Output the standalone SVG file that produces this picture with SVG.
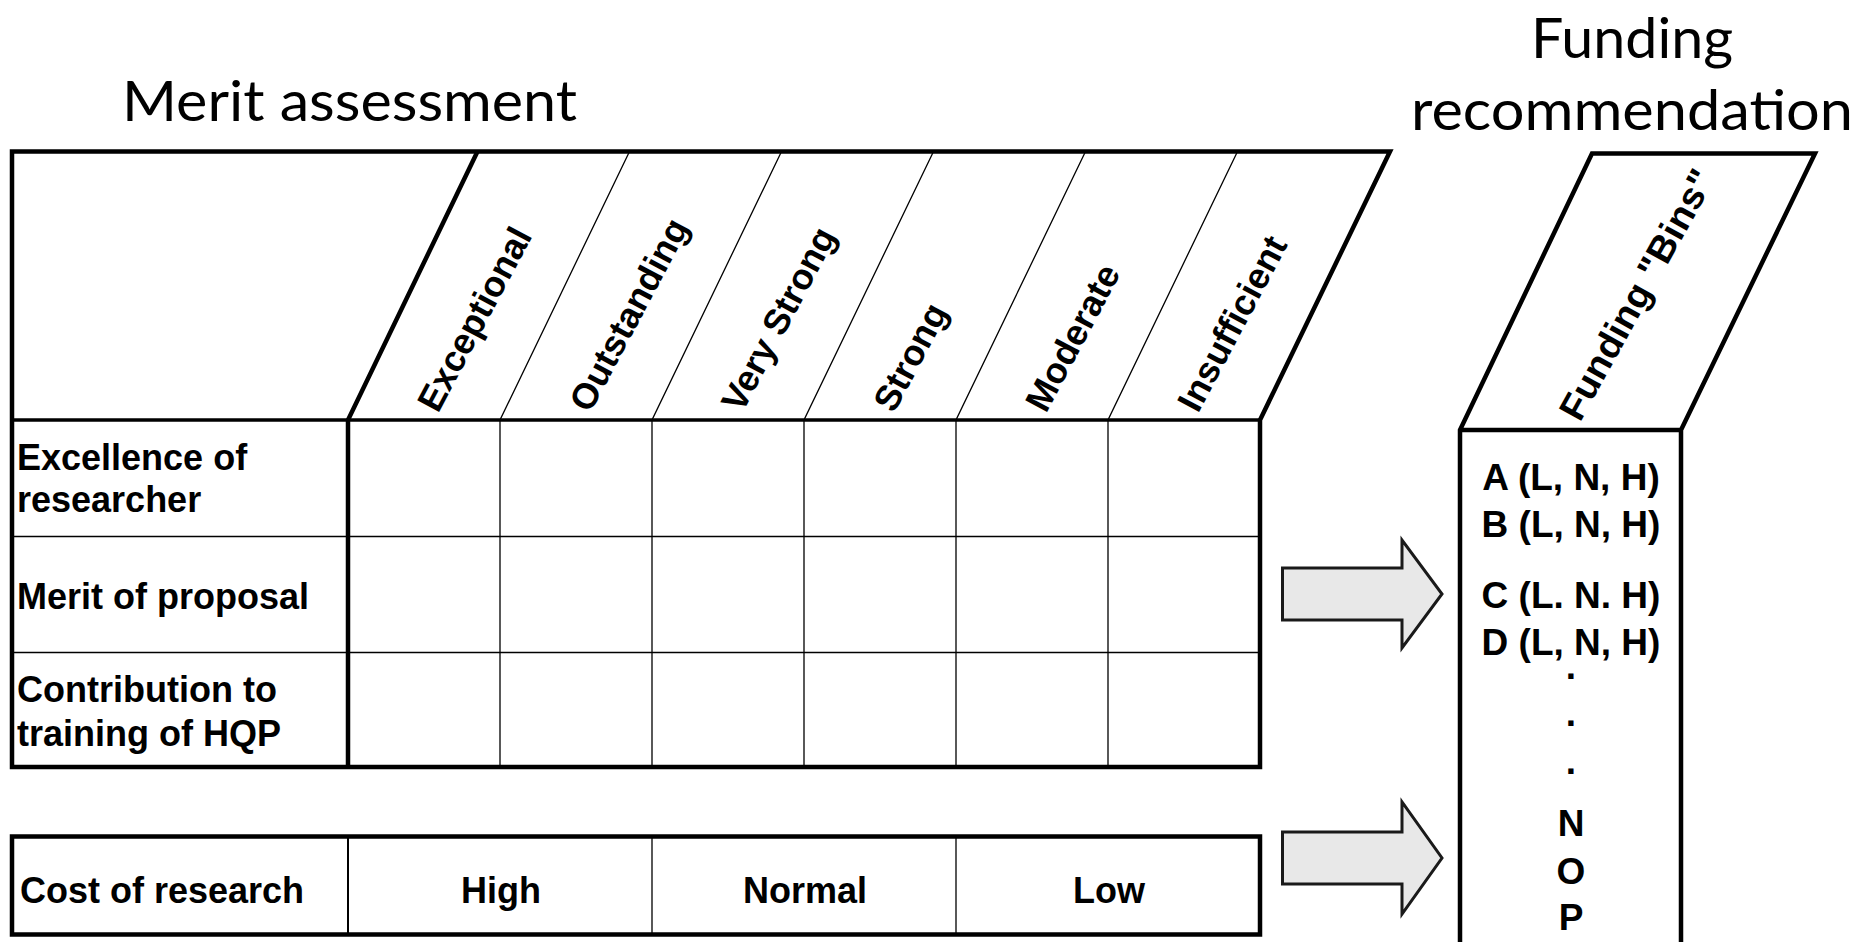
<svg xmlns="http://www.w3.org/2000/svg" width="1874" height="942" viewBox="0 0 1874 942">
<style>
.title{font-family:Lato,"Open Sans","Liberation Sans",sans-serif;font-size:56px;fill:#000}
.lbl{font-family:"Liberation Sans",Arial,sans-serif;font-weight:bold;font-size:36px;fill:#000}
.bin{font-family:"Liberation Sans",Arial,sans-serif;font-weight:bold;font-size:37px;fill:#000;text-anchor:middle}
.mid{text-anchor:middle}
.thick{fill:none;stroke:#000;stroke-width:4.5;stroke-linejoin:miter}
.med{fill:none;stroke:#000;stroke-width:3.5}
.thin{fill:none;stroke:#000;stroke-width:1.3}
.arrow{fill:#e8e8e8;stroke:#1a1a1a;stroke-width:3;stroke-linejoin:miter}
</style>
<rect width="1874" height="942" fill="#fff"/>

<g id="title-merit">
<text class="title" x="122" y="121" textLength="455" lengthAdjust="spacingAndGlyphs">Merit assessment</text>
</g>
<g id="title-funding">
<text class="title mid" x="1632" y="58" textLength="202" lengthAdjust="spacingAndGlyphs">Funding</text>
<text class="title mid" x="1632" y="130" textLength="442" lengthAdjust="spacingAndGlyphs">recommendation</text>
</g>

<g id="merit-table">
<path class="thin" d="M12,536.5H1260M12,652.5H1260"/>
<path class="thin" d="M500,767V420L629.5,151.5M652,767V420L781.5,151.5M804,767V420L933.5,151.5M956,767V420L1085.5,151.5M1108,767V420L1237.5,151.5"/>
<path class="med" d="M12,420H1260"/>
<path class="thick" d="M348,767V420L477.5,151.5"/>
<path class="thick" d="M12,151.5H1390L1260,420V767H12Z"/>
<text class="lbl" transform="translate(438,414) rotate(-62)">Exceptional</text>
<text class="lbl" transform="translate(590,414) rotate(-62)">Outstanding</text>
<text class="lbl" transform="translate(742,414) rotate(-62)">Very Strong</text>
<text class="lbl" transform="translate(894,414) rotate(-62)">Strong</text>
<text class="lbl" transform="translate(1046,414) rotate(-62)">Moderate</text>
<text class="lbl" transform="translate(1198,414) rotate(-62)">Insufficient</text>
<text class="lbl" x="17" y="470">Excellence of</text>
<text class="lbl" x="17" y="512">researcher</text>
<text class="lbl" x="17" y="609">Merit of proposal</text>
<text class="lbl" x="17" y="702">Contribution to</text>
<text class="lbl" x="17" y="746">training of HQP</text>
</g>

<g id="cost-table">
<path class="thin" d="M652,836.5V934.5M956,836.5V934.5"/>
<path fill="none" stroke="#000" stroke-width="2" d="M348,836.5V934.5"/>
<rect class="thick" x="12" y="836.5" width="1248" height="98"/>
<text class="lbl" x="20" y="903">Cost of research</text>
<text class="lbl mid" x="501" y="903">High</text>
<text class="lbl mid" x="805" y="903">Normal</text>
<text class="lbl mid" x="1109" y="903">Low</text>
</g>

<g id="funding-bins">
<path class="thick" d="M1460,946V430L1592,153.5H1815L1681,430V946M1460,430H1681"/>
<text class="lbl" style="font-size:37px" transform="translate(1580,423) rotate(-61)" textLength="280" lengthAdjust="spacingAndGlyphs">Funding "Bins"</text>
<text class="bin" x="1571" y="490">A (L, N, H)</text>
<text class="bin" x="1571" y="536.5">B (L, N, H)</text>
<text class="bin" x="1571" y="608">C (L. N. H)</text>
<text class="bin" x="1571" y="655">D (L, N, H)</text>
<text class="bin" x="1571" y="679">.</text>
<text class="bin" x="1571" y="726">.</text>
<text class="bin" x="1571" y="774">.</text>
<text class="bin" x="1571" y="836">N</text>
<text class="bin" x="1571" y="884">O</text>
<text class="bin" x="1571" y="930">P</text>
</g>

<g id="connectors">
<path class="arrow" d="M1282.5,568H1402V540L1442,594L1402,648V620H1282.5Z"/>
<path class="arrow" d="M1282.5,832H1402V802L1442,858L1402,914V884H1282.5Z"/>
</g>
</svg>
